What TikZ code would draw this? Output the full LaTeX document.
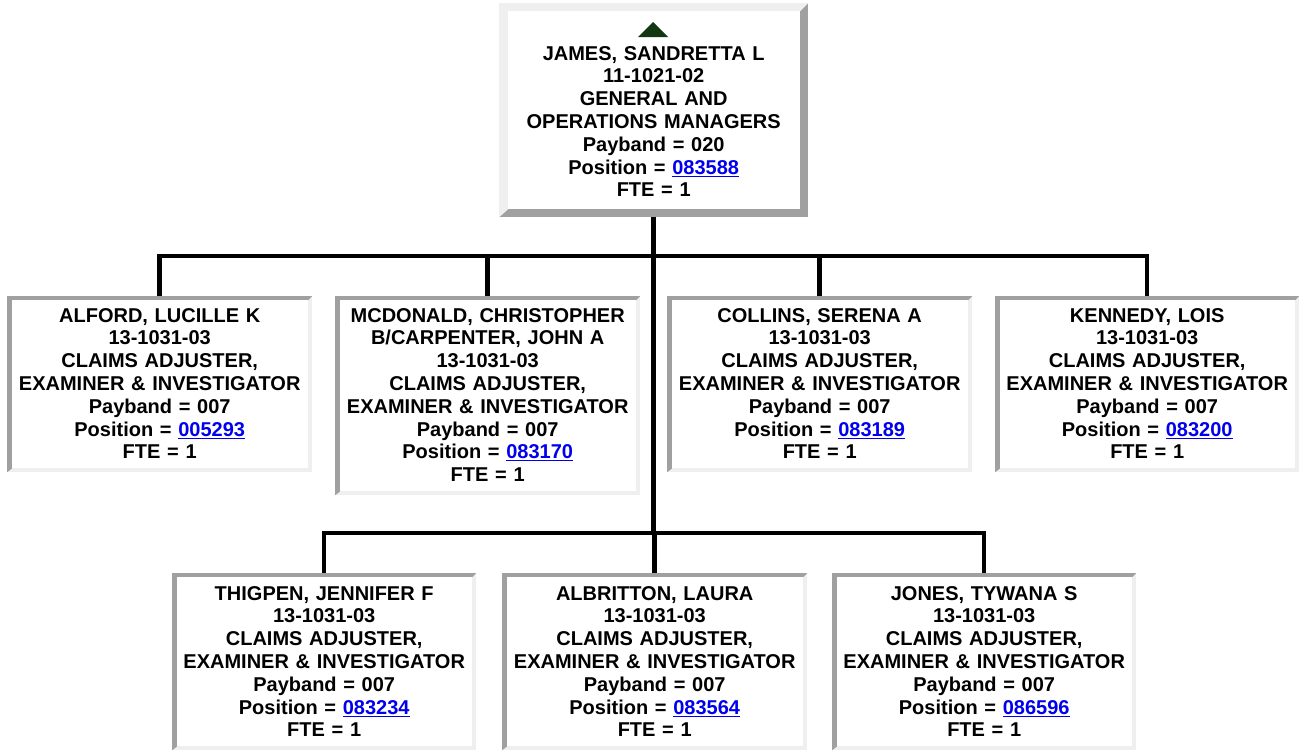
\documentclass[tikz,border=0pt]{standalone}
\usepackage{fontspec}
\setmainfont{Liberation Sans}
\definecolor{dk}{HTML}{A0A0A0}
\definecolor{lt}{HTML}{EFEFEF}
\definecolor{link}{RGB}{0,0,238}
\definecolor{tri}{HTML}{123812}
\newcommand\lnk[1]{\textcolor{link}{\underline{#1}}}
\tikzset{
  inset/.style={inner sep=0pt, anchor=north west, fill=lt, path picture={
    \fill[dk] (path picture bounding box.north west) -- (path picture bounding box.north east)
      -- ([shift={(-4pt,-4pt)}]path picture bounding box.north east)
      -- ([shift={(5pt,-4pt)}]path picture bounding box.north west)
      -- ([shift={(5pt,4pt)}]path picture bounding box.south west)
      -- (path picture bounding box.south west) -- cycle;
    \fill[white] ([shift={(5pt,-4pt)}]path picture bounding box.north west) rectangle ([shift={(-4pt,4pt)}]path picture bounding box.south east);
  }},
  outset/.style={inner sep=0pt, anchor=north west, fill=dk, path picture={
    \fill[lt] (path picture bounding box.north west) -- (path picture bounding box.north east)
      -- ([shift={(-8pt,-8pt)}]path picture bounding box.north east)
      -- ([shift={(9pt,-8pt)}]path picture bounding box.north west)
      -- ([shift={(9pt,8pt)}]path picture bounding box.south west)
      -- (path picture bounding box.south west) -- cycle;
    \fill[white] ([shift={(9pt,-8pt)}]path picture bounding box.north west) rectangle ([shift={(-8pt,8pt)}]path picture bounding box.south east);
  }},
  txt/.style={anchor=north, inner sep=0pt, text width=300pt, align=center,
    font=\fontsize{20}{22.8}\selectfont\bfseries},
  conn/.style={line width=4.5pt, black},
}
\begin{document}
\begin{tikzpicture}[x=1pt,y=-1pt]
\useasboundingbox (0,0) rectangle (1299,750);
% boxes
\node[outset, minimum width=309pt, minimum height=214pt] (james) at (499,3) {};
\node[inset, minimum width=305pt, minimum height=176pt] (alford) at (7,296) {};
\node[inset, minimum width=305pt, minimum height=199pt] (mcdonald) at (335,296) {};
\node[inset, minimum width=305pt, minimum height=176pt] (collins) at (667,296) {};
\node[inset, minimum width=304pt, minimum height=176pt] (kennedy) at (995,296) {};
\node[inset, minimum width=304pt, minimum height=177pt] (thigpen) at (172,573) {};
\node[inset, minimum width=305pt, minimum height=177pt] (albritton) at (502,573) {};
\node[inset, minimum width=304pt, minimum height=177pt] (jones) at (832,573) {};
% triangle
\fill[tri] (638,37) -- (653,22) -- (668,37) -- cycle;
% texts
\node[txt] (james-t) at ([yshift=-43pt]james.north) {JAMES, SANDRETTA L\\11-1021-02\\GENERAL AND\\OPERATIONS MANAGERS\\Payband = 020\\Position = \lnk{083588}\\FTE = 1};
\node[txt] (alford-t) at ([yshift=-12pt]alford.north) {ALFORD, LUCILLE K\\13-1031-03\\CLAIMS ADJUSTER,\\EXAMINER \& INVESTIGATOR\\Payband = 007\\Position = \lnk{005293}\\FTE = 1};
\node[txt] (mcdonald-t) at ([yshift=-12pt]mcdonald.north) {MCDONALD, CHRISTOPHER\\B/CARPENTER, JOHN A\\13-1031-03\\CLAIMS ADJUSTER,\\EXAMINER \& INVESTIGATOR\\Payband = 007\\Position = \lnk{083170}\\FTE = 1};
\node[txt] (collins-t) at ([yshift=-12pt]collins.north) {COLLINS, SERENA A\\13-1031-03\\CLAIMS ADJUSTER,\\EXAMINER \& INVESTIGATOR\\Payband = 007\\Position = \lnk{083189}\\FTE = 1};
\node[txt] (kennedy-t) at ([yshift=-12pt]kennedy.north) {KENNEDY, LOIS\\13-1031-03\\CLAIMS ADJUSTER,\\EXAMINER \& INVESTIGATOR\\Payband = 007\\Position = \lnk{083200}\\FTE = 1};
\node[txt] (thigpen-t) at ([yshift=-13pt]thigpen.north) {THIGPEN, JENNIFER F\\13-1031-03\\CLAIMS ADJUSTER,\\EXAMINER \& INVESTIGATOR\\Payband = 007\\Position = \lnk{083234}\\FTE = 1};
\node[txt] (albritton-t) at ([yshift=-13pt]albritton.north) {ALBRITTON, LAURA\\13-1031-03\\CLAIMS ADJUSTER,\\EXAMINER \& INVESTIGATOR\\Payband = 007\\Position = \lnk{083564}\\FTE = 1};
\node[txt] (jones-t) at ([yshift=-13pt]jones.north) {JONES, TYWANA S\\13-1031-03\\CLAIMS ADJUSTER,\\EXAMINER \& INVESTIGATOR\\Payband = 007\\Position = \lnk{086596}\\FTE = 1};
% connectors
\coordinate (bar1) at (654,256);
\coordinate (bar2) at (654,533);
\draw[conn] (james.south) -- (james.south |- bar2);
\draw[conn] (alford.north) |- (bar1) -| (kennedy.north);
\draw[conn] (mcdonald.north) -- (mcdonald.north |- bar1);
\draw[conn] (collins.north) -- (collins.north |- bar1);
\draw[conn] (thigpen.north) |- (bar2) -| (jones.north);
\draw[conn] (albritton.north) -- (albritton.north |- bar2);
\end{tikzpicture}
\end{document}
